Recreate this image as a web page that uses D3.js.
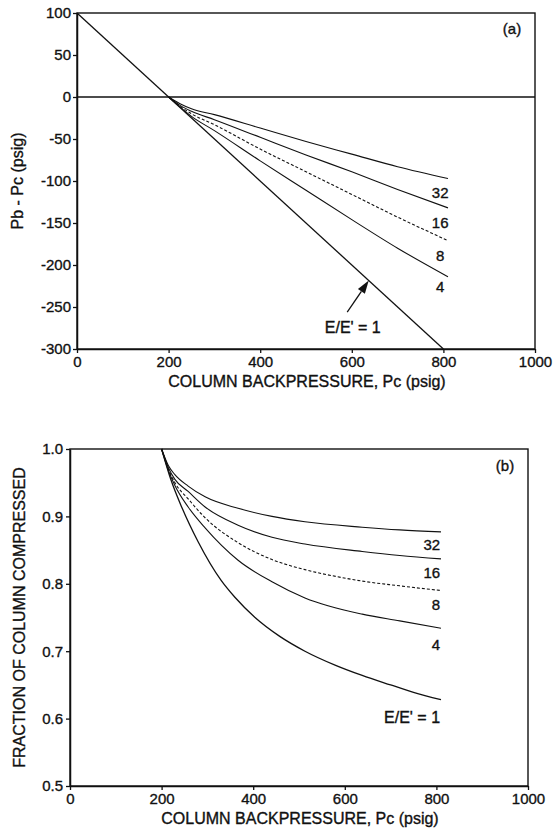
<!DOCTYPE html>
<html>
<head>
<meta charset="utf-8">
<script src="https://cdn.jsdelivr.net/npm/d3@7"></script>
<style>
  body { margin: 0; background: #fff; }
  svg text { font-family: "Liberation Sans", Arial, Helvetica, sans-serif; fill: #111; stroke: #111; stroke-width: 0.35px; }
</style>
</head>
<body>
<svg id="chart" width="558" height="829"></svg>
<script>
// ---- data ----
const xTicks = [0, 200, 400, 600, 800, 1000];
const yTicksA = [100, 50, 0, -50, -100, -150, -200, -250, -300];
const yTicksB = [0.5, 0.6, 0.7, 0.8, 0.9, 1.0];
const ratios = ['32', '16', '8', '4'];

// (a) Pb - Pc vs column backpressure
const diff1 = [[0, 100], [800, -300]];
const diff32 = [[200, 0], [225, -8], [250, -14], [300, -21], [400, -37], [500, -53], [600, -68], [700, -83], [810, -97]];
const diff16 = [[200, 0], [225, -10], [250, -17], [300, -27], [400, -48], [500, -69], [600, -89], [700, -110], [810, -132]];
const diff8 = [[200, 0], [225, -11], [250, -20], [300, -33], [400, -62], [500, -89], [600, -116], [700, -143], [810, -171]];
const diff4 = [[200, 0], [225, -12], [250, -23], [300, -40], [400, -76], [500, -111], [600, -146], [700, -180], [810, -214]];

// (b) fraction of column compressed
const frac1 = [[200, 1], [220, 0.955], [245, 0.912], [280, 0.862], [330, 0.805], [360, 0.780], [404, 0.750], [458, 0.722], [513, 0.700], [580, 0.679], [638, 0.664], [700, 0.650], [750, 0.639], [810, 0.628]];
const frac32 = [[200, 1], [215, 0.975], [229, 0.962], [258, 0.945], [295, 0.929], [367, 0.912], [441, 0.900], [513, 0.892], [638, 0.884], [720, 0.880], [810, 0.877]];
const frac16 = [[200, 1], [215, 0.972], [229, 0.955], [258, 0.937], [295, 0.914], [367, 0.887], [441, 0.869], [513, 0.859], [638, 0.848], [720, 0.842], [810, 0.837]];
const frac8 = [[200, 1], [215, 0.970], [229, 0.950], [258, 0.926], [295, 0.898], [367, 0.861], [441, 0.836], [513, 0.821], [580, 0.811], [638, 0.804], [720, 0.797], [810, 0.790]];
const frac4 = [[200, 1], [215, 0.968], [229, 0.946], [258, 0.914], [295, 0.883], [367, 0.835], [441, 0.803], [513, 0.779], [638, 0.755], [720, 0.745], [810, 0.734]];

const svg = d3.select('#chart');
const ink = '#111';

// draws one panel - called twice
function drawPanel(type) {
    let left = type == 'a' ? 77 : 70;
    let right = type == 'a' ? 535 : 528;
    let top = type == 'a' ? 13 : 449;
    let bottom = type == 'a' ? 349 : 786;

    let xScale = d3.scaleLinear().domain([0, 1000]).range([left, right]);
    let yScale = d3.scaleLinear()
        .domain(type == 'a' ? [-300, 100] : [0.5, 1])
        .range([bottom, top]);

    let series = type == 'a'
        ? [diff32, diff16, diff8, diff4, diff1]
        : [frac32, frac16, frac8, frac4, frac1];

    let g = svg.append('g');

    // axes
    let xAxis = d3.axisBottom(xScale)
        .tickValues(xTicks).tickSize(4).tickSizeOuter(0).tickPadding(3)
        .tickFormat(d => String(d));
    let yAxis = d3.axisLeft(yScale)
        .tickValues(type == 'a' ? yTicksA : yTicksB)
        .tickSize(4).tickSizeOuter(0).tickPadding(type == 'a' ? 2 : 3)
        .tickFormat(type == 'a' ? (d => String(d)) : d3.format('.1f'));

    [[xAxis, 'translate(0,' + bottom + ')'], [yAxis, 'translate(' + left + ',0)']].forEach(function (a) {
        let ag = g.append('g').attr('transform', a[1]).call(a[0]);
        ag.attr('font-family', null).attr('font-size', null);
        ag.selectAll('text').style('font-size', '15px');
        ag.selectAll('line').attr('stroke', ink).attr('stroke-width', 1.3);
        ag.select('.domain').attr('stroke', ink).attr('stroke-width', 1.5);
    });

    // frame
    g.append('rect')
        .attr('x', left).attr('y', top)
        .attr('width', right - left).attr('height', bottom - top)
        .attr('fill', 'none').attr('stroke', ink).attr('stroke-width', 1.4);

    // zero line in (a)
    if (type == 'a') {
        g.append('line')
            .attr('x1', xScale(0)).attr('x2', xScale(1000))
            .attr('y1', yScale(0)).attr('y2', yScale(0))
            .attr('stroke', ink).attr('stroke-width', 1.3);
    }

    // curves
    let line = d3.line()
        .x(d => xScale(d[0]))
        .y(d => yScale(d[1]))
        .curve(d3.curveMonotoneX);

    g.selectAll('.curve')
        .data(series)
        .enter()
        .append('path')
        .attr('class', 'curve')
        .attr('d', line)
        .attr('fill', 'none')
        .attr('stroke', ink)
        .attr('stroke-width', (d, i) => i == 4 ? 1.3 : 1.1)
        .attr('stroke-dasharray', (d, i) => i == 2 ? '3,2' : null);

    // curve labels
    let labelY = type == 'a' ? [-120, -156, -195, -232] : [0.850, 0.809, 0.761, 0.702];
    g.selectAll('.lab')
        .data(ratios)
        .enter()
        .append('text')
        .attr('class', 'lab')
        .attr('x', type == 'a' ? xScale(793) : xScale(808))
        .attr('y', (d, i) => yScale(labelY[i]))
        .attr('text-anchor', type == 'a' ? 'middle' : 'end')
        .style('font-size', '15px')
        .text(d => d);

    if (type == 'a') {
        g.append('text')
            .attr('x', xScale(541)).attr('y', yScale(-281))
            .style('font-size', '16px')
            .text("E/E' = 1");

        // arrow pointing at the E/E' = 1 line
        let x0 = xScale(590), y0 = yScale(-256);
        let x1 = xScale(637), y1 = yScale(100 - 0.5 * 637);
        let ang = Math.atan2(y1 - y0, x1 - x0);
        let hl = 13, hw = 4.2;
        let bx = x1 - hl * Math.cos(ang), by = y1 - hl * Math.sin(ang);
        g.append('line')
            .attr('x1', x0).attr('y1', y0).attr('x2', bx).attr('y2', by)
            .attr('stroke', ink).attr('stroke-width', 1.3);
        g.append('path')
            .attr('d', 'M' + x1 + ',' + y1 +
                'L' + (bx + hw * Math.sin(ang)) + ',' + (by - hw * Math.cos(ang)) +
                'L' + (bx - hw * Math.sin(ang)) + ',' + (by + hw * Math.cos(ang)) + 'Z')
            .attr('fill', ink);
    } else {
        g.append('text')
            .attr('x', xScale(808)).attr('y', yScale(0.593))
            .attr('text-anchor', 'end')
            .style('font-size', '16px')
            .text("E/E' = 1");
    }

    // panel tag
    g.append('text')
        .attr('x', right - 23).attr('y', top + (type == 'a' ? 21 : 22))
        .attr('text-anchor', 'middle')
        .style('font-size', '15px')
        .text('(' + type + ')');

    // axis titles
    g.append('text')
        .attr('x', (left + right) / 2 + 1).attr('y', bottom + 38)
        .attr('text-anchor', 'middle')
        .style('font-size', '16px')
        .text('COLUMN BACKPRESSURE, Pc (psig)');

    g.append('text')
        .attr('transform', 'translate(' + (type == 'a' ? 23 : 25) + ',' + ((top + bottom) / 2) + ') rotate(-90)')
        .attr('text-anchor', 'middle')
        .style('font-size', '16px')
        .text(type == 'a' ? 'Pb - Pc (psig)' : 'FRACTION OF COLUMN COMPRESSED');
}

drawPanel('a');
drawPanel('b');
</script>
</body>
</html>
